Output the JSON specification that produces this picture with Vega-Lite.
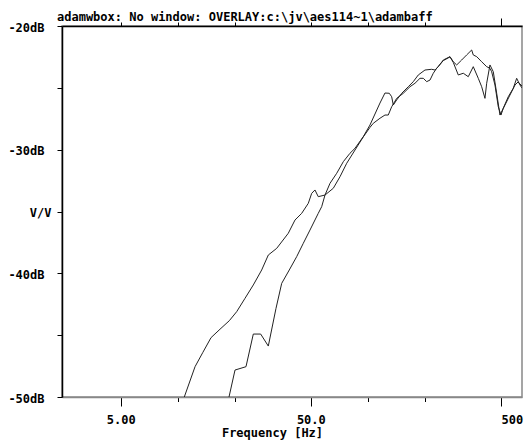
{
  "$schema": "https://vega.github.io/schema/vega-lite/v6.json",
  "width": 460,
  "height": 371,
  "autosize": {"type": "none"},
  "padding": {"left": 62, "top": 26, "right": 4, "bottom": 44},
  "background": "white",
  "config": {
    "font": "DejaVu Sans Mono",
    "view": {"stroke": "#888888", "strokeWidth": 1.5},
    "axis": {"grid": false, "labelFont": "DejaVu Sans Mono", "labelFontSize": 12, "labelFontWeight": "bold", "labelColor": "black", "titleFont": "DejaVu Sans Mono", "titleFontSize": 12, "titleFontWeight": "bold", "titleColor": "black", "tickColor": "black", "domainColor": "black"}
  },
  "title": {"text": "adamwbox: No window: OVERLAY:c:\\jv\\aes114~1\\adambaff", "anchor": "start", "frame": "group", "dx": -5, "offset": -15, "baseline": "alphabetic", "font": "DejaVu Sans Mono", "fontSize": 12, "fontWeight": "bold", "color": "black"},
  "data": {"values": [
    {"c":"A","f":10.80,"db":-50.0},{"c":"A","f":12.30,"db":-47.55},{"c":"A","f":13.49,"db":-46.42},{"c":"A","f":14.93,"db":-45.20},{"c":"A","f":16.64,"db":-44.52},{"c":"A","f":18.63,"db":-43.83},{"c":"A","f":20.37,"db":-43.10},{"c":"A","f":22.53,"db":-42.02},{"c":"A","f":24.91,"db":-40.94},{"c":"A","f":27.57,"db":-39.73},{"c":"A","f":29.87,"db":-38.52},{"c":"A","f":33.07,"db":-37.98},{"c":"A","f":38.05,"db":-36.76},{"c":"A","f":41.27,"db":-35.69},{"c":"A","f":44.75,"db":-35.15},{"c":"A","f":48.48,"db":-34.34},{"c":"A","f":50.52,"db":-33.53},{"c":"A","f":52.56,"db":-33.26},{"c":"A","f":54.70,"db":-33.80},{"c":"A","f":59.35,"db":-33.67},{"c":"A","f":63.06,"db":-32.72},{"c":"A","f":68.40,"db":-31.91},{"c":"A","f":74.10,"db":-30.97},{"c":"A","f":80.33,"db":-30.29},{"c":"A","f":85.35,"db":-29.89},{"c":"A","f":94.35,"db":-28.95},{"c":"A","f":102.3,"db":-28.01},{"c":"A","f":115.5,"db":-26.23},{"c":"A","f":122.7,"db":-25.42},{"c":"A","f":129.3,"db":-25.44},{"c":"A","f":133.1,"db":-25.72},{"c":"A","f":135.7,"db":-26.39},{"c":"A","f":141.4,"db":-25.98},{"c":"A","f":150.3,"db":-25.44},{"c":"A","f":162.7,"db":-24.91},{"c":"A","f":172.9,"db":-24.50},{"c":"A","f":183.7,"db":-23.96},{"c":"A","f":199.2,"db":-23.56},{"c":"A","f":216.0,"db":-23.50},{"c":"A","f":224.8,"db":-23.56},{"c":"A","f":234.0,"db":-23.29},{"c":"A","f":248.6,"db":-22.75},{"c":"A","f":269.7,"db":-22.48},{"c":"A","f":280.7,"db":-22.89},{"c":"A","f":292.4,"db":-23.15},{"c":"A","f":310.6,"db":-22.75},{"c":"A","f":330.0,"db":-22.34},{"c":"A","f":350.6,"db":-21.94},{"c":"A","f":357.5,"db":-22.34},{"c":"A","f":372.6,"db":-22.48},{"c":"A","f":395.8,"db":-22.89},{"c":"A","f":420.5,"db":-23.29},{"c":"A","f":437.6,"db":-23.42},{"c":"A","f":446.7,"db":-23.70},{"c":"A","f":464.9,"db":-24.77},{"c":"A","f":483.9,"db":-26.53},{"c":"A","f":500,"db":-27.20},{"c":"A","f":514.0,"db":-26.65},{"c":"A","f":546.1,"db":-25.72},{"c":"A","f":580.3,"db":-25.04},{"c":"A","f":604.6,"db":-24.23},{"c":"A","f":629.4,"db":-24.77},{"c":"A","f":645,"db":-25.01},
    {"c":"B","f":18.56,"db":-50.0},{"c":"B","f":19.96,"db":-47.82},{"c":"B","f":22.80,"db":-47.55},{"c":"B","f":24.91,"db":-44.91},{"c":"B","f":27.24,"db":-44.91},{"c":"B","f":29.87,"db":-45.88},{"c":"B","f":32.79,"db":-42.83},{"c":"B","f":35.13,"db":-40.81},{"c":"B","f":38.51,"db":-39.73},{"c":"B","f":42.13,"db":-38.65},{"c":"B","f":45.64,"db":-37.57},{"c":"B","f":49.48,"db":-36.50},{"c":"B","f":54.70,"db":-35.15},{"c":"B","f":57.02,"db":-34.61},{"c":"B","f":59.35,"db":-33.67},{"c":"B","f":65.63,"db":-33.12},{"c":"B","f":71.16,"db":-32.19},{"c":"B","f":77.20,"db":-31.10},{"c":"B","f":85.35,"db":-30.03},{"c":"B","f":94.35,"db":-28.97},{"c":"B","f":102.3,"db":-28.2},{"c":"B","f":106.5,"db":-27.87},{"c":"B","f":115.5,"db":-27.46},{"c":"B","f":122.7,"db":-27.20},{"c":"B","f":127.7,"db":-27.20},{"c":"B","f":133.1,"db":-26.53},{"c":"B","f":141.4,"db":-25.85},{"c":"B","f":153.2,"db":-25.44},{"c":"B","f":166.1,"db":-24.91},{"c":"B","f":176.5,"db":-24.63},{"c":"B","f":187.5,"db":-24.23},{"c":"B","f":195.2,"db":-24.23},{"c":"B","f":203.4,"db":-24.50},{"c":"B","f":211.7,"db":-24.37},{"c":"B","f":220.3,"db":-23.82},{"c":"B","f":229.5,"db":-23.42},{"c":"B","f":248.6,"db":-22.8},{"c":"B","f":269.7,"db":-22.5},{"c":"B","f":280.7,"db":-22.95},{"c":"B","f":298.2,"db":-23.96},{"c":"B","f":316.8,"db":-23.82},{"c":"B","f":336.5,"db":-24.10},{"c":"B","f":357.5,"db":-23.29},{"c":"B","f":379.8,"db":-24.23},{"c":"B","f":395.8,"db":-24.91},{"c":"B","f":411.9,"db":-25.85},{"c":"B","f":420.5,"db":-24.63},{"c":"B","f":437.6,"db":-23.15},{"c":"B","f":455.6,"db":-23.70},{"c":"B","f":474.7,"db":-25.44},{"c":"B","f":493.9,"db":-27.20},{"c":"B","f":524.8,"db":-26.39},{"c":"B","f":557.6,"db":-25.58},{"c":"B","f":592.5,"db":-24.77},{"c":"B","f":614.6,"db":-24.53},{"c":"B","f":645,"db":-24.85}
  ]},
  "layer": [
    {
      "transform": [{"filter": "datum.c == 'A'"}],
      "mark": {"type": "line", "color": "#222222", "strokeWidth": 1, "clip": true},
      "encoding": {
        "x": {"field": "f", "type": "quantitative",
          "scale": {"type": "log", "domain": [2.456, 645], "nice": false},
          "axis": {"orient": "bottom", "values": [5, 10, 20, 50, 100, 200, 500],
            "labelExpr": "datum.value == 5 ? '5.00' : datum.value == 50 ? '50.0' : datum.value == 500 ? '500' : ''",
            "title": "Frequency [Hz]", "titleX": 210, "titleY": 39, "titleBaseline": "alphabetic", "titleAlign": "center",
            "domainColor": "#888888", "domainWidth": 1.5,
            "tickSize": {"condition": {"test": "datum.value == 5 || datum.value == 50 || datum.value == 500", "value": 9}, "value": 4.5},
            "labelBaseline": "alphabetic", "labelPadding": 17,
            "labelAlign": {"condition": {"test": "datum.value == 500", "value": "left"}, "value": "center"},
            "labelFlush": false, "labelOverlap": false, "labelBound": false}
        },
        "y": {"field": "db", "type": "quantitative",
          "scale": {"domain": [-50, -20], "nice": false, "zero": false},
          "axis": {"orient": "left", "values": [-50, -45, -40, -35, -30, -25, -20],
            "labelExpr": "datum.value == -35 ? 'V/V' : (datum.value % 10 == 0 ? datum.value + 'dB' : '')",
            "title": null, "tickSize": 5, "domainColor": "black", "domainWidth": 1.5,
            "labelPadding": {"condition": {"test": "datum.value == -35", "value": 6}, "value": 13},
            "labelBaseline": "middle", "labelOffset": 1, "labelAlign": "right",
            "labelFlush": false, "labelOverlap": false, "labelBound": false}
        }
      }
    },
    {
      "transform": [{"filter": "datum.c == 'B'"}],
      "mark": {"type": "line", "color": "#222222", "strokeWidth": 1, "clip": true},
      "encoding": {
        "x": {"field": "f", "type": "quantitative",
          "scale": {"type": "log", "domain": [2.456, 645], "nice": false},
          "axis": {"orient": "top", "values": [5, 10, 20, 50, 100, 200, 500], "labels": false, "title": null,
            "domainColor": "black", "domainWidth": 1.5,
            "tickSize": {"condition": {"test": "datum.value == 500", "value": 8}, "value": 4}}
        },
        "y": {"field": "db", "type": "quantitative"}
      }
    }
  ],
  "resolve": {"axis": {"x": "independent"}}
}
